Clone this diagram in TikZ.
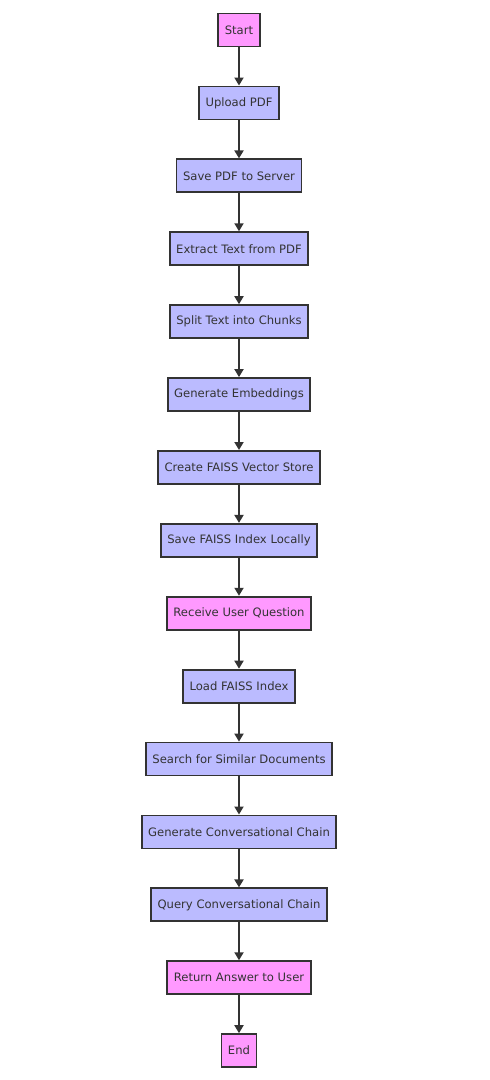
\documentclass[tikz,border=0pt]{standalone}
\usepackage{fontspec}
\setmainfont{DejaVu Sans}
\usetikzlibrary{positioning,arrows.meta}
\definecolor{pinkfill}{HTML}{FF99FF}
\definecolor{bluefill}{HTML}{BBBBFF}
\definecolor{darkline}{HTML}{333333}

\begin{document}
\begin{tikzpicture}
          [x=1pt,y=1pt,node distance=38.1pt,
           every node/.style={rectangle,draw=darkline,line width=1.8pt,minimum height=33pt,inner xsep=6.5pt,
             font=\fontsize{11.6}{13}\selectfont,text=darkline,fill=bluefill},
           endpoint/.style={fill=pinkfill}]
          \useasboundingbox (0,0) rectangle (490,-1080);
          \node[endpoint] (n1) at (239,-30) {Start};
          \node (n2) [below=of n1] {Upload PDF};
          \node (n3) [below=of n2] {Save PDF to Server};
          \node (n4) [below=of n3] {Extract Text from PDF};
          \node (n5) [below=of n4] {Split Text into Chunks};
          \node (n6) [below=of n5] {Generate Embeddings};
          \node (n7) [below=of n6] {Create FAISS Vector Store};
          \node (n8) [below=of n7] {Save FAISS Index Locally};
          \node[endpoint] (n9) [below=of n8] {Receive User Question};
          \node (n10) [below=of n9] {Load FAISS Index};
          \node (n11) [below=of n10] {Search for Similar Documents};
          \node (n12) [below=of n11] {Generate Conversational Chain};
          \node (n13) [below=of n12] {Query Conversational Chain};
          \node[endpoint] (n14) [below=of n13] {Return Answer to User};
          \node[endpoint] (n15) [below=of n14] {End};

          \foreach \from/\to in {n1/n2,n2/n3,n3/n4,n4/n5,n5/n6,n6/n7,n7/n8,n8/n9,n9/n10,n10/n11,n11/n12,n12/n13,n13/n14,n14/n15}
            \draw[darkline,line width=1.8pt,-{Triangle[width=9pt,length=8pt]}] (\from) -- (\to);

        \end{tikzpicture}
\end{document}
